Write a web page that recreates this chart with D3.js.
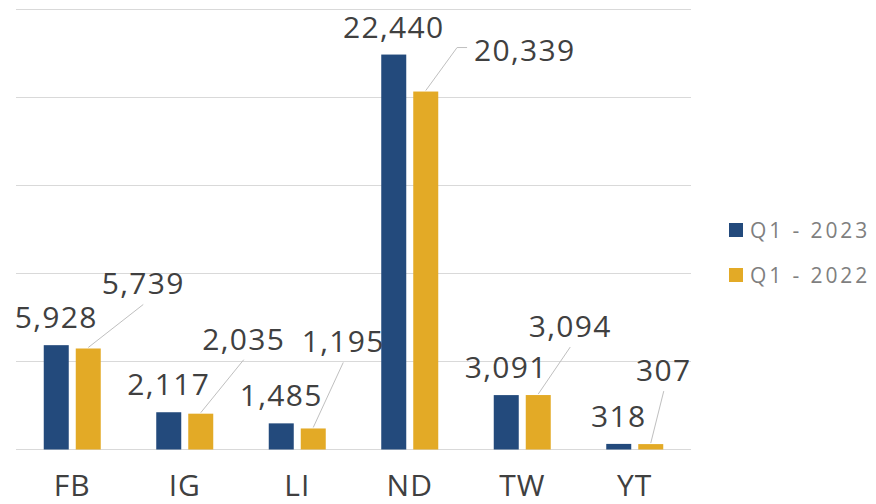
<!DOCTYPE html>
<html>
<head>
<meta charset="utf-8">
<script src="https://cdn.jsdelivr.net/npm/d3@7"></script>
<style>
  html, body { margin: 0; padding: 0; background: #fff; }
  svg { display: block; }
  .val { font-family: "Open Sans", sans-serif; font-size: 30px; letter-spacing: 1.3px; fill: #404040; }
  .cat { font-family: "Open Sans", sans-serif; font-size: 30px; letter-spacing: 1px; fill: #404040; }
  .leg { font-family: "Open Sans", sans-serif; font-size: 21px; letter-spacing: 2.9px; fill: #7f7f7f; }
</style>
</head>
<body>
<svg id="chart" width="876" height="504"></svg>
<script>
// chart data
const categories = ["FB", "IG", "LI", "ND", "TW", "YT"];
const seriesNames = ["Q1 - 2023", "Q1 - 2022"];
const q1_2023 = [5928, 2117, 1485, 22440, 3091, 318];
const q1_2022 = [5739, 2035, 1195, 20339, 3094, 307];
const yTicks = [0, 5000, 10000, 15000, 20000, 25000];

// label placement for the 2022 series (moved labels with leader lines), dx/dy from bar top
const goldLabelOffset = [[55, -54], [43, -64], [30, -76], [99, -31], [32, -58], [13, -63]];
const goldLabelElbow = [false, false, false, true, false, false];

const colors = ["#234a7c", "#e3aa26"];
const seriesValues = [q1_2023, q1_2022];

const svg = d3.select("#chart");
const fmt = d3.format(",");

const x0 = d3.scaleBand().domain(categories).range([16, 691]).padding(0);
const x1 = d3.scaleBand().domain(seriesNames)
    .range([x0.bandwidth() / 2 - 28.5, x0.bandwidth() / 2 + 28.5])
    .paddingInner(0.21875).paddingOuter(0);
const y = d3.scaleLinear().domain([0, 25000]).range([449.5, 9.5]);

// gridlines
svg.append("g").selectAll("line")
    .data(yTicks)
    .join("line")
    .attr("x1", 16).attr("x2", 691)
    .attr("y1", d => y(d)).attr("y2", d => y(d))
    .attr("stroke", "#d9d9d9").attr("stroke-width", 1);

// bars
const groups = svg.append("g").selectAll("g")
    .data(categories)
    .join("g")
    .attr("transform", d => `translate(${x0(d)},0)`);

groups.selectAll("rect")
    .data((d, i) => seriesNames.map((s, k) => ({ s, k, v: seriesValues[k][i] })))
    .join("rect")
    .attr("x", d => x1(d.s))
    .attr("y", d => y(d.v))
    .attr("width", x1.bandwidth())
    .attr("height", d => y(0) - y(d.v))
    .attr("fill", d => colors[d.k]);

// labels for 2023 series (default above bar)
svg.append("g").selectAll("text")
    .data(categories)
    .join("text")
    .attr("class", "val")
    .attr("text-anchor", "middle")
    .attr("x", (d, i) => x0(d) + x1(seriesNames[0]) + x1.bandwidth() / 2)
    .attr("y", (d, i) => y(q1_2023[i]) - 17)
    .text((d, i) => fmt(q1_2023[i]));

// labels and leader lines for 2022 series
const gold = categories.map((c, i) => {
    const bx = x0(c) + x1(seriesNames[1]) + x1.bandwidth() / 2;
    const by = y(q1_2022[i]);
    const [dx, dy] = goldLabelOffset[i];
    return { c, i, bx, by, lx: bx + dx, ly: by + dy, elbow: goldLabelElbow[i] };
});

const leaderG = svg.append("g");
const goldText = svg.append("g").selectAll("text")
    .data(gold)
    .join("text")
    .attr("class", "val")
    .attr("text-anchor", "middle")
    .attr("x", d => d.lx)
    .attr("y", d => d.ly)
    .text(d => fmt(q1_2022[d.i]));

goldText.each(function(d) {
    const bb = this.getBBox();
    let pts;
    if (d.elbow) {
        const ey = d.ly - 13;
        pts = [[d.bx, d.by - 1], [bb.x - 17, ey], [bb.x - 7, ey]];
    } else {
        pts = [[d.bx, d.by - 1], [d.lx, d.ly + 10]];
    }
    leaderG.append("path")
        .attr("d", d3.line()(pts))
        .attr("fill", "none")
        .attr("stroke", "#bfbfbf")
        .attr("stroke-width", 1);
});

// category axis labels
svg.append("g").selectAll("text")
    .data(categories)
    .join("text")
    .attr("class", "cat")
    .attr("text-anchor", "middle")
    .attr("x", d => x0(d) + x0.bandwidth() / 2)
    .attr("y", 496)
    .text(d => d);

// legend
const legend = svg.append("g").selectAll("g")
    .data(seriesNames)
    .join("g")
    .attr("transform", (d, i) => `translate(729,${223 + i * 45})`);
legend.append("rect")
    .attr("width", 14).attr("height", 14)
    .attr("fill", (d, i) => colors[i]);
legend.append("text")
    .attr("class", "leg")
    .attr("x", 21).attr("y", 14.5)
    .text(d => d);
</script>
</body>
</html>
